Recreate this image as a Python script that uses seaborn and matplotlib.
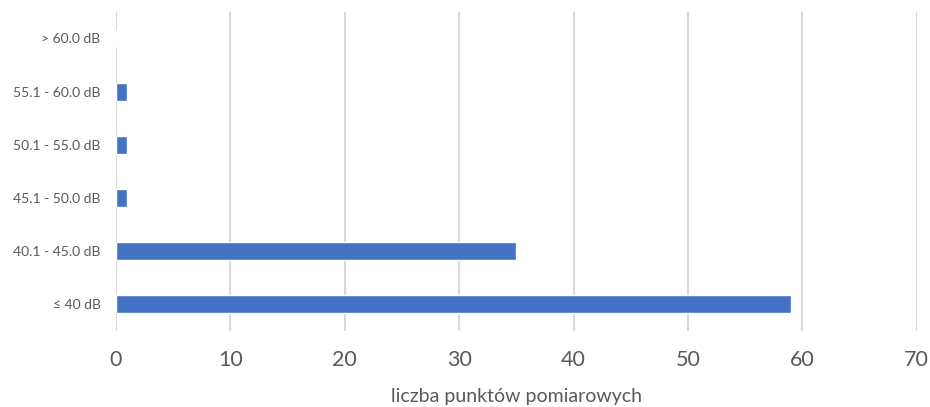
import matplotlib
matplotlib.use("Agg")
import matplotlib.pyplot as plt
import seaborn as sns
import pandas as pd

# Noise level classes (top to bottom) and number of measurement points
categories = ["> 60.0 dB", "55.1 - 60.0 dB", "50.1 - 55.0 dB",
              "45.1 - 50.0 dB", "40.1 - 45.0 dB", "\u2264 40 dB"]
counts = [0, 1, 1, 1, 35, 59]
x_ticks = [0, 10, 20, 30, 40, 50, 60, 70]
x_label = "liczba punktów pomiarowych"

sns.set_theme(style="white")
plt.rcParams["font.family"] = ["Lato", "DejaVu Sans"]

df = pd.DataFrame({"klasa": categories, "liczba": counts})

fig = plt.figure(figsize=(9.30, 4.07), dpi=100)
ax = fig.add_axes([0.1247, 0.187, 0.861, 0.784])

sns.barplot(data=df, x="liczba", y="klasa", orient="h", order=categories,
            color="#4472C4", saturation=1, width=0.34, ax=ax)

ax.set_xlim(0, 70)
ax.set_ylim(5.5, -0.5)
ax.set_xticks(x_ticks)
ax.set_xticklabels([str(t) for t in x_ticks])
ax.xaxis.grid(True, color="#d9d9d9", linewidth=1.5)
ax.set_axisbelow(True)
for s in ax.spines.values():
    s.set_visible(False)

ax.tick_params(axis="x", length=0, pad=14, labelsize=15.5, labelcolor="#595959")
ax.tick_params(axis="y", length=0, pad=11, labelsize=10, labelcolor="#595959")
ax.set_ylabel("")
ax.set_xlabel(x_label, fontsize=14, color="#595959", labelpad=13)

fig.savefig("out.png", dpi=100, facecolor="white")
